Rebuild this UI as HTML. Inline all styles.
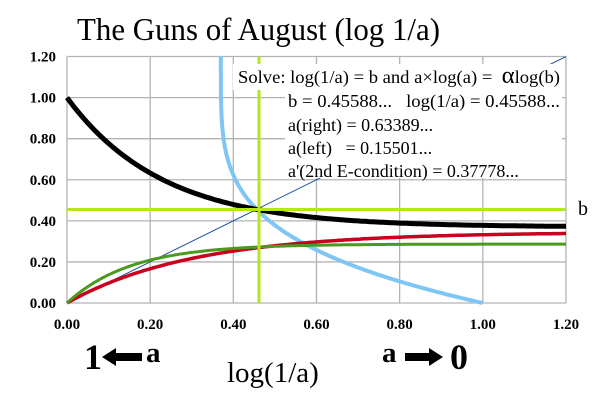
<!DOCTYPE html><html><head><meta charset="utf-8"><style>body{margin:0;background:#fff}svg{display:block}text{white-space:pre;font-family:"Liberation Serif","Times New Roman",serif}</style></head><body>
<svg id="s" width="614" height="406" xmlns="http://www.w3.org/2000/svg" xml:space="preserve">
<rect width="614" height="406" fill="#fff"/>
<g id="grid" stroke="#b3b3b3" stroke-width="1.3"></g>
<g id="curves" fill="none"></g>
<rect x="233" y="64" width="329" height="26" fill="#fff"/>
<rect x="285" y="90" width="277" height="88" fill="#fff"/>
<g font-size="18" fill="#000">
<text x="238" y="83" textLength="322" lengthAdjust="spacingAndGlyphs">Solve: log(1/a) = b and a×log(a) =  <tspan font-size="24">α</tspan>log(b)</text>
<text x="288" y="107" textLength="272" lengthAdjust="spacingAndGlyphs">b = 0.45588...   log(1/a) = 0.45588...</text>
<text x="288" y="131">a(right) = 0.63389...</text>
<text x="288" y="154">a(left)   = 0.15501...</text>
<text x="288" y="177">a'(2nd E-condition) = 0.37778...</text>
</g>
<g id="lab" font-weight="bold" font-size="15" fill="#000"></g>
<text x="77" y="40" font-size="32" textLength="363" lengthAdjust="spacingAndGlyphs">The Guns of August (log 1/a)</text>
<text x="578" y="215" font-size="20">b</text>
<g font-weight="bold" font-size="36">
<text x="84" y="369">1</text>
<text x="146" y="362" font-size="29">a</text>
<text x="382" y="362" font-size="29">a</text>
<text x="450" y="369">0</text>
</g>
<path d="M102,357 L116,348 L116,353 L142,353 L142,361 L116,361 L116,366 Z" fill="#000"/>
<path d="M443,357 L429,348 L429,353 L405,353 L405,361 L429,361 L429,366 Z" fill="#000"/>
<text x="227" y="382" font-size="29">log(1/a)</text>
</svg>
<script>
const X=v=>67+v*415.8, Y=v=>303-v*205.4;
const g=document.getElementById('grid'),c=document.getElementById('curves'),l=document.getElementById('lab');
let h='';
for(let i=0;i<=6;i++){const v=i*0.2;
h+=`<line x1="${X(v)}" y1="${Y(0)}" x2="${X(v)}" y2="${Y(1.2)}"/><line x1="${X(0)}" y1="${Y(v)}" x2="${X(1.2)}" y2="${Y(v)}"/>`;
l.innerHTML+=`<text x="${X(v)}" y="329" text-anchor="middle">${v.toFixed(2)}</text><text x="56" y="${Y(v)+5}" text-anchor="end">${v.toFixed(2)}</text>`;}
g.innerHTML=h;
function pl(f,col,w,a=0,b=1.2){let p=[];for(let i=0;i<=240;i++){const x=a+(b-a)*i/240;p.push(X(x).toFixed(1)+','+Y(f(x)).toFixed(1));}return `<polyline points="${p.join(' ')}" stroke="${col}" stroke-width="${w}"/>`;}
let s='';
s+=`<line x1="${X(0)}" y1="${Y(0)}" x2="${X(1.2)}" y2="${Y(1.2)}" stroke="#1f4e9a" stroke-width="1"/>`;
let p=[];for(let i=0;i<=200;i++){const y=1.2*i/200;const x=0.37+0.295*Math.pow(1.2-y,4.16);p.push(X(x).toFixed(1)+','+Y(y).toFixed(1));}
s+=`<polyline points="${p.join(' ')}" stroke="#7fc6f5" stroke-width="4"/>`;
s+=pl(x=>0.345*(1-Math.exp(-3.3*x)),'#c8001e',3.5);
s+=pl(x=>0.287*(1-Math.exp(-6.5*x)),'#4a9a1e',3);
s+=pl(x=>0.37+0.63*Math.exp(-4.37*x),'#000',5);
s+=`<line x1="${X(0)}" y1="209.5" x2="566" y2="209.5" stroke="#b5e61d" stroke-width="3"/>`;
s+=`<line x1="259" y1="${Y(1.2)}" x2="259" y2="${Y(0)}" stroke="#b5e61d" stroke-width="3"/>`;
c.innerHTML=s;
</script>
</body></html>
